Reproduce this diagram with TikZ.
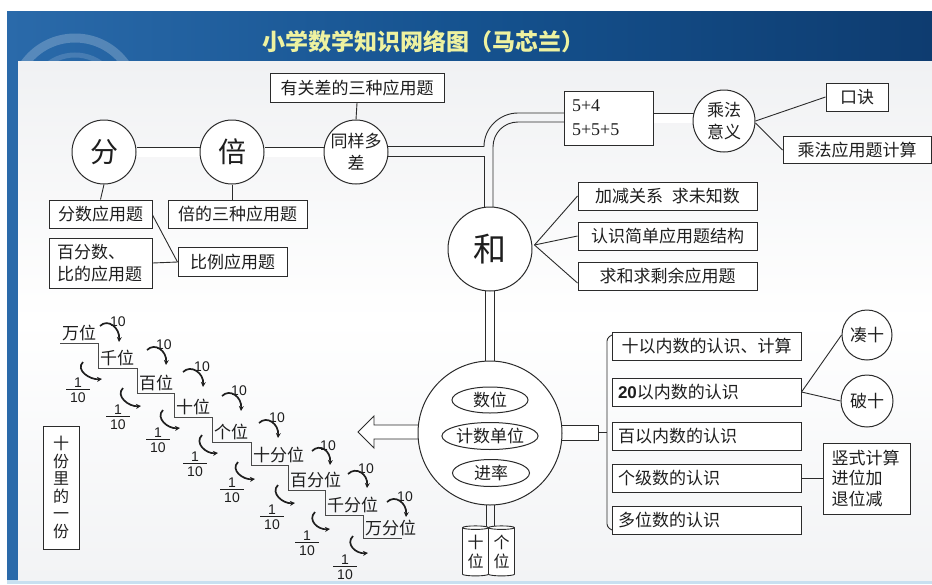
\documentclass[tikz,border=0pt]{standalone}
\usepackage{fontspec}
\setmainfont{Noto Sans CJK SC}
\newfontfamily\serifnum{Liberation Serif}
\newfontfamily\sansnum{Liberation Sans}
\usetikzlibrary{shapes.geometric,arrows.meta,calc}
\pgfdeclarelayer{back}
\pgfdeclarelayer{conn}
\pgfsetlayers{back,conn,main}
\newcommand\setfs[1]{\fontsize{#1}{#1}\selectfont}
\newcommand\setfsl[2]{\fontsize{#1}{#2}\selectfont}
\definecolor{linec}{HTML}{2B2B2B}
\definecolor{stairc}{HTML}{4A4A4A}
\definecolor{txtc}{HTML}{1E1E1E}
\definecolor{bannerL}{HTML}{2A6AAA}
\definecolor{bannerM}{HTML}{15528F}
\definecolor{bannerR}{HTML}{0E3C70}
\definecolor{titlec}{HTML}{EEF2A0}
\definecolor{panelTop}{HTML}{F0F1F3}
\definecolor{panelBot}{HTML}{F2F3F5}
\definecolor{lightstrip}{HTML}{C8E0F0}
\tikzset{
  box/.style={draw=linec, line width=1pt, fill=white, inner sep=0pt, text=txtc, font=\setfs{17}, align=center},
  rbox/.style={box, minimum width=189pt, minimum height=28pt, text width=177pt, inner xsep=6pt, align=left},
  circ/.style={circle, draw=linec, line width=1pt, fill=white, inner sep=0pt, text=txtc, align=center},
  ell/.style={ellipse, draw=linec, line width=1pt, fill=white, inner sep=0pt, text=txtc, font=\setfs{17}},
  ln/.style={draw=linec, line width=0.9pt},
  road/.style={draw=linec, line width=0.9pt, double=white, double distance=9pt},
  stl/.style={anchor=base west, inner sep=0pt, text=txtc, font=\setfs{17}},
  ten/.style={font=\sansnum\setfs{14}, text=txtc, inner sep=0pt},
  frac/.style={font=\sansnum\setfs{14}, text=txtc, inner sep=0pt},
  curv/.style={draw=txtc, line width=1.7pt, -{Stealth[length=5pt,width=5pt]}},
  cyl/.style={cylinder, shape border rotate=90, aspect=0.22, draw=linec, line width=0.9pt, fill=white, minimum width=26pt, minimum height=50pt, inner sep=0pt, text=txtc, font=\setfsl{16}{19}, align=center}
}
\begin{document}
\begin{tikzpicture}[x=1pt,y=-1pt]
\useasboundingbox (0,0) rectangle (932,584);
\begin{pgfonlayer}{back}
  \fill[white] (0,0) rectangle (932,584);
  \shade[left color=bannerL, right color=bannerR, middle color=bannerM] (7,11) rectangle (932,581);
  \begin{scope}
    \clip (7,11) rectangle (300,61);
    \draw[white, opacity=0.22, line width=9pt] (75,100) circle[radius=62];
    \draw[white, opacity=0.15, line width=5pt] (75,100) circle[radius=45];
  \end{scope}
  \fill[lightstrip] (7,580) rectangle (932,584);
  \shade[top color=panelTop, bottom color=panelBot, middle color=white] (18,61) rectangle (932,580);
\end{pgfonlayer}

% title
\node[font=\setfs{23}\bfseries, text=titlec] (title) at (423,42) {小学数学知识网络图（马芯兰）};

% top-left chain
\node[box, minimum width=174pt, minimum height=29pt] (yg) at (357,88) {有关差的三种应用题};
\node[circ, minimum size=64pt, font=\setfs{28}] (fen) at (104,152) {分};
\node[circ, minimum size=64pt, font=\setfs{28}] (bei) at (232,152) {倍};
\node[circ, minimum size=64pt, font=\setfsl{17}{22}] (tong) at (356,152) {同样多\\差};
\node[box, minimum width=103pt, minimum height=28pt] (fenshu) at (100.5,214) {分数应用题};
\node[box, minimum width=139pt, minimum height=28pt] (beide) at (237.5,214) {倍的三种应用题};
\node[box, minimum width=103pt, minimum height=50pt, text width=87pt, align=left, font=\setfsl{17}{22}] (baifen) at (100.5,263) {百分数、\\比的应用题};
\node[box, minimum width=109pt, minimum height=29pt] (bili) at (232.5,262) {比例应用题};

% he and multiplication
\node[circ, minimum size=84pt, font=\setfs{33}] (he) at (490,249) {和};
\node[box, minimum width=179pt, minimum height=28pt] (hb1) at (667.5,196) {加减关系\hspace{9pt}求未知数};
\node[box, minimum width=179pt, minimum height=28pt] (hb2) at (667.5,236) {认识简单应用题结构};
\node[box, minimum width=179pt, minimum height=28pt] (hb3) at (667.5,276) {求和求剩余应用题};
\node[box, minimum width=89pt, minimum height=54pt, text width=73pt, align=left, font=\serifnum\setfsl{18}{24}] (five) at (608.5,118) {5+4\\5+5+5};
\node[circ, minimum size=62pt, font=\setfsl{17}{22}] (cfyy) at (724,121) {乘法\\意义};
\node[box, minimum width=62pt, minimum height=28pt] (kj) at (857,97) {口诀};
\node[box, minimum width=148pt, minimum height=27pt] (cfyyt) at (857,150) {乘法应用题计算};

% big circle
\node[circ, minimum size=144pt] (big) at (490,433) {};
\node[ell, minimum width=76pt, minimum height=26pt] (e1) at (490,400) {数位};
\node[ell, minimum width=88pt, minimum height=27pt] (e2) at (490,436) {计数单位};
\node[ell, minimum width=77pt, minimum height=27pt] (e3) at (491,473) {进率};

% right boxes
\node[rbox, align=center] (r1) at (706.5,346) {十以内数的认识、计算};
\node[rbox] (r2) at (706.5,392) {{\sansnum\bfseries 20}以内数的认识};
\node[rbox] (r3) at (706.5,436.5) {百以内数的认识};
\node[rbox] (r4) at (706.5,478.5) {个级数的认识};
\node[rbox] (r5) at (706.5,520) {多位数的认识};
\node[circ, minimum size=50pt, font=\setfs{17}] (cou) at (867,335) {凑十};
\node[circ, minimum size=52pt, font=\setfs{17}] (po) at (867,401) {破十};
\node[box, minimum width=87pt, minimum height=71pt, text width=70pt, align=left, font=\setfsl{17}{20.5}] (shushi) at (866.5,478.5) {竖式计算\\进位加\\退位减};

% cylinders
\node[cyl] (cy1) at (475.5,552) {十\\位};
\node[cyl] (cy2) at (501.5,552) {个\\位};

% left vertical box
\node[box, minimum width=36pt, minimum height=123pt, font=\setfsl{16}{17.5}] (shifen) at (61,487.5) {十\\份\\里\\的\\一\\份};

% staircase
\draw[draw=stairc, line width=0.9pt] (60,343) -- (98,343) -- (98,368) -- (137,368) -- (137,393) -- (174,393) -- (174,417) -- (212,417) -- (212,442) -- (251,442) -- (251,465) -- (288,465) -- (288,490) -- (325,490) -- (325,515) -- (363,515) -- (363,538) -- (402,538);
\foreach \lab/\x/\y [count=\i] in {万位/60/343, 千位/98/368, 百位/137/393, 十位/174/417, 个位/212/442, 十分位/251/465, 百分位/288/490, 千分位/325/515, 万分位/363/538}
  \node[stl] (st\i) at (\x+2,\y-3.5) {\lab};
\foreach \sx/\sy/\ex/\ey/\tx/\ty [count=\i] in {100/326/119/342/118/322, 147/350/166/365/164/345, 183/372/203/387/202/367, 222/396/241/411/239/391, 259/423/278/438/277/418, 312/451/330/465/328/446, 348/474/367/488/366/469, 387/502/406/517/405/497}{
  \draw[curv] (\sx,\sy) .. controls (\sx+8,\sy-8) and (\ex+1,\ey-14) .. (\ex,\ey);
  \node[ten] (tn\i) at (\tx,\ty) {10};
}
\foreach \sx/\sy/\ex/\ey/\fx/\fy [count=\i] in {83/362/102/379/78/390, 123/388/141/406/118/417, 163/410/180/428/158/440, 202/435/218/453/195/464, 238/462/255/479/232/490, 278/485/295/503/272/517, 315/512/330/529/307/543, 353/536/368/553/345/567}{
  \draw[curv] (\sx,\sy) .. controls (\sx-8,\sy+8) and (\ex-12,\ey+1) .. (\ex,\ey);
  \node[frac] (fa\i) at (\fx,\fy-7) {1};
  \node[frac] (fb\i) at (\fx,\fy+8) {10};
  \draw[draw=txtc, line width=1pt] (\fx-12,\fy-0.5) -- (\fx+12,\fy-0.5);
}

% connectors
\begin{pgfonlayer}{conn}
  \draw[ln] (yg.south) -- (tong.north);
  \draw[road] (fen) -- (bei);
  \draw[road] (bei) -- (tong);
  \draw[ln] (fen.south) -- (fenshu.north);
  \draw[ln] (bei.south) -- (bei.south |- beide.north);
  \draw[ln] ([yshift=-1pt]fenshu.east) -- (bili.west);
  \draw[ln] (baifen.east) -- (bili.west);
  % road junction
  \draw[ln] ($(tong.center)+(0,-5.5)$) -- (484,146.5) .. controls (484,128) and (499.5,113) .. (518,113) -- ($(five.center)+(0,-5)$);
  \draw[ln] ($(tong.center)+(0,4.5)$) -- (484,156.5) -- ($(he.center)+(-6,0)$);
  \draw[ln] ($(he.center)+(3,0)$) -- (493,147) .. controls (493,133) and (504,122) .. (518,122) -- ($(five.center)+(0,4)$);
  \draw[road] (five.center) -- (five.center -| cfyy.center);
  \draw[ln] (cfyy.east) -- (kj.west);
  \draw[ln] ([yshift=-2pt]cfyy.east) -- (cfyyt.west);
  \draw[ln] ([xshift=2pt,yshift=4pt]he.east) -- (hb1.west);
  \draw[ln] ([xshift=2pt,yshift=4pt]he.east) -- (hb2.west);
  \draw[ln] ([xshift=2pt,yshift=4pt]he.east) -- ([yshift=-7pt]hb3.west);
  % vertical roads
  \draw[ln] ($(he.center)+(-5,0)$) -- ($(big.center)+(-5,0)$);
  \draw[ln] ($(he.center)+(4,0)$) -- ($(big.center)+(4,0)$);
  \draw[ln] ($(big.center)+(-4,0)$) -- ($(big.center |- cy1.center)+(-4,0)$);
  \draw[ln] ($(big.center)+(4,0)$) -- ($(big.center |- cy1.center)+(4,0)$);
  % right stub and bracket
  \draw[ln, fill=white] ($(big.center)+(20,-8)$) rectangle ($(big.center)+(108,7)$);
  \draw[ln] ($(big.center)+(108,-0.5)$) -- (607,432.5);
  \draw[ln, rounded corners=3pt] (612,335) -- (607,338) -- (607,527) -- (612,530);
  % left hollow arrow
  \draw[ln, fill=white] ($(big.center)+(-60,-8)$) -- (374,425) -- (374,416) -- (358,432) -- (374,448) -- (374,439) -- ($(big.center)+(-60,6)$);
  \draw[ln] (r2.east) -- (cou.west);
  \draw[ln] (r2.east) -- (po.west);
  \draw[ln] (r4.east) -- (shushi.west);
\end{pgfonlayer}
\end{tikzpicture}
\end{document}
